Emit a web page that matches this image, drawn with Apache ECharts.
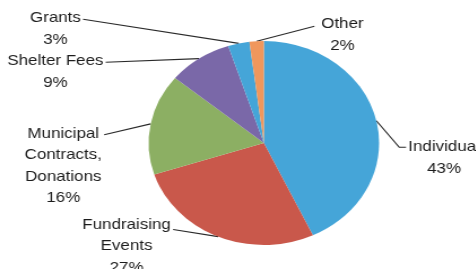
<!DOCTYPE html>
<html>
<head>
<meta charset="utf-8">
<script src="https://cdn.jsdelivr.net/npm/echarts@6/dist/echarts.min.js"></script>
<style>
  html, body { margin: 0; padding: 0; background: #fff; overflow: hidden; }
  /* the source picture is stretched sideways, so the chart is drawn narrower and scaled */
  #chart { width: 421px; height: 269px; transform: scaleX(1.13); transform-origin: 0 0; }
</style>
</head>
<body>
<div id="chart"></div>
<script>
const categories = ['Individual', 'Fundraising\nEvents', 'Municipal\nContracts,\nDonations', 'Shelter Fees', 'Grants', 'Other']
const shares = [43, 27, 16, 9, 3, 2]
const colors = ['#45a5d8', '#c9584b', '#8caf63', '#7a68a8', '#45a5d8', '#f0975c']

// label centres (unscaled px), per slice
const labelSpots = [
  [393, 158],
  [112, 246],
  [56, 166],
  [49, 72],
  [49, 29],
  [303, 35],
]
const LINE_H = 21.5

const chart = echarts.init(document.getElementById('chart'), null, { renderer: 'canvas' })

chart.setOption({
  animation: false,
  series: [
    {
      type: 'pie',
      center: [233.5, 143],
      radius: 102,
      startAngle: 90,
      clockwise: true,
      label: {
        show: true,
        formatter: (p) => `${p.name}\n${p.value}%`,
        fontFamily: 'Liberation Sans, Arial, sans-serif',
        fontSize: 15,
        lineHeight: LINE_H,
        color: '#1c1c1c',
        align: 'center',
        overflow: 'none',
      },
      labelLine: {
        show: true,
        length: 10,
        length2: 10,
        lineStyle: { color: '#2a2a2a', width: 1.2 },
      },
      labelLayout: (params) => {
        const i = params.dataIndex
        const s = labelSpots[i]
        const out = { x: s[0], y: s[1], align: 'center', verticalAlign: 'middle' }
        const pts = params.labelLinePoints
        const r = params.labelRect
        if (pts && r) {
          const edge = pts[0]
          const left = s[0] - r.width / 2
          const right = s[0] + r.width / 2
          const firstY = s[1] - r.height / 2 + LINE_H / 2
          if (i === 0) {
            out.labelLinePoints = [edge, [left - 8, firstY], [left - 2, firstY]]
          } else if (i === 5) {
            out.labelLinePoints = [edge, [left - 6, firstY + 2], [left - 6, firstY + 2]]
          } else {
            const y = i === 1 ? firstY + 5 : firstY + 1
            out.labelLinePoints = [edge, [right + 2, y], [right + 2, y]]
          }
        }
        return out
      },
      itemStyle: { borderWidth: 0 },
      emphasis: { disabled: true },
      data: categories.map((name, i) => ({
        name,
        value: shares[i],
        itemStyle: { color: colors[i] },
      })),
    },
  ],
})
</script>
</body>
</html>
